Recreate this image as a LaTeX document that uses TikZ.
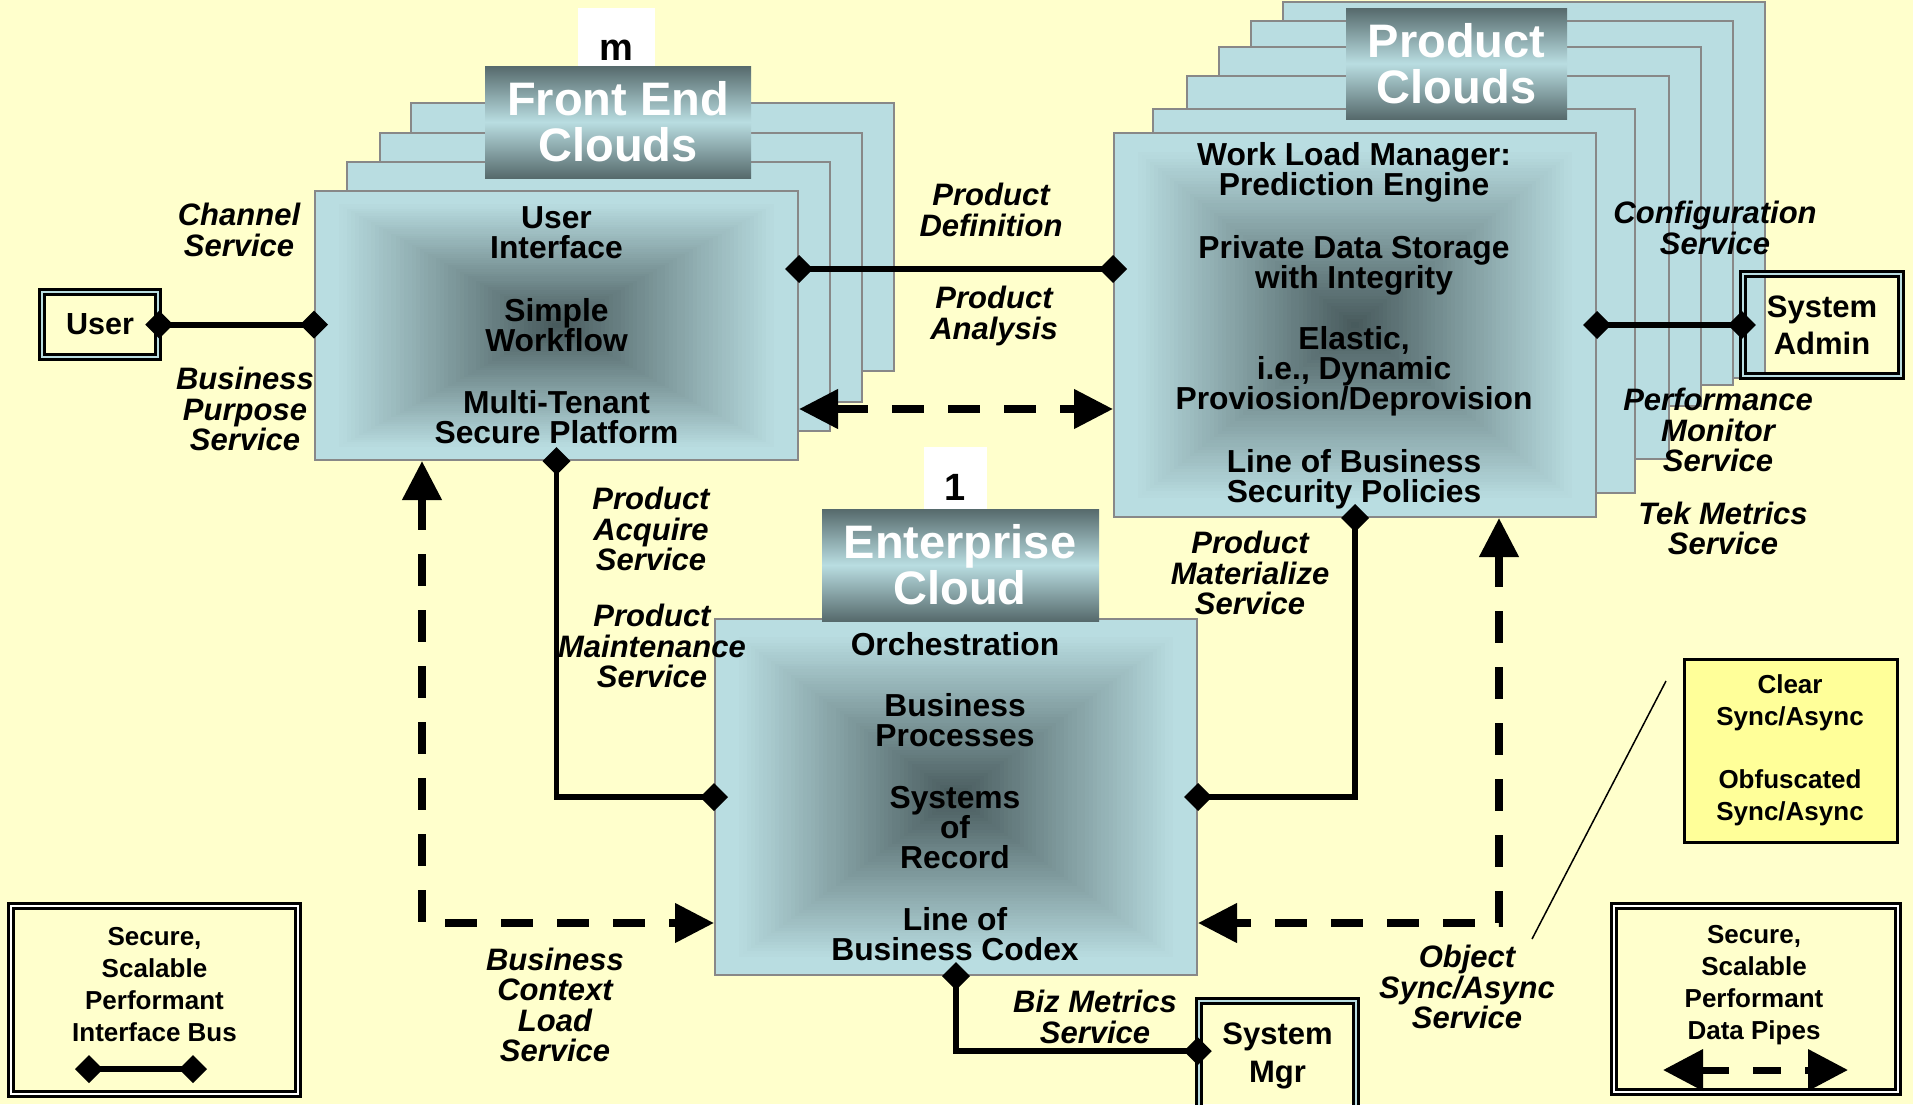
\documentclass[tikz,border=0pt]{standalone}
\usepackage{fontspec}
\setmainfont{Liberation Sans}
\usetikzlibrary{arrows.meta,calc}
\definecolor{bg}{RGB}{255,255,204}
\definecolor{glight}{RGB}{185,221,225}
\definecolor{gdark}{RGB}{70,88,90}
\definecolor{hdark}{RGB}{86,106,108}
\definecolor{edgegray}{RGB}{136,136,136}
\definecolor{clearyellow}{RGB}{255,255,153}
\newcommand\gradrect[4]{%
  \pgfmathsetmacro\gcx{(#1+#3)/2}%
  \pgfmathsetmacro\gcy{(#2+#4)/2}%
  \pgfmathsetmacro\ghw{(#3-#1)/2}%
  \pgfmathsetmacro\ghh{(#4-#2)/2}%
  \foreach \i in {0,...,60}{%
    \pgfmathsetmacro\t{1-\i/60}%
    \pgfmathtruncatemacro\p{max(0,min(100,100*(0.92-\t)/0.92))}%
    \fill[gdark!\p!glight] (\gcx-\t*\ghw,\gcy-\t*\ghh) rectangle (\gcx+\t*\ghw,\gcy+\t*\ghh);
  }%
}
\begin{document}
\begin{tikzpicture}[x=1pt,y=-1pt,
  stack/.style={fill=glight, draw=edgegray, line width=2pt},
  gbox/.style={draw=edgegray, line width=2pt, inner sep=0pt, rectangle},
  bt/.style={font=\bfseries\fontsize{31.8}{29.8}\selectfont, align=center, inner sep=0pt},
  ht/.style={font=\bfseries\fontsize{47}{46}\selectfont, align=center, inner sep=0pt, text=white},
  lab/.style={font=\bfseries\itshape\fontsize{31}{30.5}\selectfont, align=center, inner sep=0pt},
  legt/.style={font=\bfseries\fontsize{26}{32}\selectfont, align=center, inner sep=0pt},
  dblbox/.style={draw=black, line width=2.5pt, double=#1, double distance=2.5pt, inner sep=0pt, rectangle},
  dia/.style={line width=5.5pt, {Diamond[length=28pt,width=28pt]}-{Diamond[length=28pt,width=28pt]}, shorten <=-14pt, shorten >=-14pt},
  dar/.style={line width=7.5pt, dash pattern=on 32pt off 24pt, {Triangle[length=39pt,width=38pt]}-{Triangle[length=39pt,width=38pt]}},
]
\fill[bg] (0,0) rectangle (1913,1104);
\useasboundingbox (0,0) rectangle (1913,1104);

% ---------- Front End Clouds ----------
\foreach \a/\b/\c/\d in {411/102.5/894/371, 380/133/862/402, 347/162/830/431}
  \filldraw[stack] (\a,\b) rectangle (\c,\d);
\gradrect{315}{191}{798}{460}
\node[gbox, minimum width=483pt, minimum height=269pt] (fe) at (556.5,325.5) {};
\fill[white] (578,8) rectangle (655,66);
\node[font=\bfseries\fontsize{38}{38}\selectfont, inner sep=0pt, anchor=base] (mlab) at (616.5,60) {m};
\shade[top color=hdark, bottom color=hdark, middle color=glight] (485,66) rectangle (751,178);
\node[ht] (fetitle) at (618,122) {Front End\\Clouds};
\node[bt] (fe1) at (556.5,233) {User\\Interface};
\node[bt] (fe2) at (556.5,325) {Simple\\Workflow};
\node[bt] (fe3) at (556.5,417) {Multi-Tenant\\Secure Platform};

% ---------- Product Clouds ----------
\foreach \a/\b/\c/\d in {1283/2/1765/378, 1251/21/1733/385, 1219/47/1701/406, 1187/76/1669/459, 1153/109/1635/493}
  \filldraw[stack] (\a,\b) rectangle (\c,\d);
\gradrect{1114}{133}{1596}{517}
\node[gbox, minimum width=482pt, minimum height=384pt] (pc) at (1355,325) {};
\shade[top color=hdark, bottom color=hdark, middle color=glight] (1346,8) rectangle (1567,119);
\node[ht] (pctitle) at (1456.5,64) {Product\\Clouds};
\node[bt] (pc1) at (1354,172.5) {Work Load Manager:\\Prediction Engine};
\node[bt] (pc2) at (1354,265) {Private Data Storage\\with Integrity};
\node[bt] (pc3) at (1354,371.5) {Elastic,\\i.e., Dynamic\\Proviosion/Deprovision};
\node[bt] (pc4) at (1354,479.5) {Line of Business\\Security Policies};

% ---------- Enterprise Cloud ----------
\gradrect{715}{619}{1197}{975}
\node[gbox, minimum width=482pt, minimum height=356pt] (ec) at (956,797) {};
\fill[white] (924,447) rectangle (987,509);
\node[font=\bfseries\fontsize{38}{38}\selectfont, inner sep=0pt, anchor=base] (onelab) at (955.5,500) {1};
\shade[top color=hdark, bottom color=hdark, middle color=glight] (822,509) rectangle (1099,621);
\node[ht] (ectitle) at (960,565) {Enterprise\\Cloud};
\node[bt] (ec1) at (955,644) {Orchestration};
\node[bt] (ec2) at (955,720.5) {Business\\Processes};
\node[bt] (ec3) at (955,827.5) {Systems\\of\\Record};
\node[bt] (ec4) at (955,934.5) {Line of\\Business Codex};

% ---------- actors ----------
\node[dblbox=glight, font=\bfseries\fontsize{30.5}{30}\selectfont, minimum width=116pt, minimum height=65pt] (user) at (100,324.5) {User};
\node[dblbox=glight, font=\bfseries\fontsize{31}{37}\selectfont, align=center, minimum width=158pt, minimum height=102pt] (sa) at (1822,325) {System\\Admin};
\node[dblbox=glight, font=\bfseries\fontsize{31}{38}\selectfont, align=center, minimum width=157pt, minimum height=110pt] (sm) at (1277.5,1056) {System\\Mgr};

% ---------- legend / note boxes ----------
\node[dblbox=white, minimum width=287pt, minimum height=188pt] (leg1) at (154.5,1000) {};
\node[legt] (leg1t) at (154.5,985) {Secure,\\Scalable\\Performant\\Interface Bus};
\coordinate (l1a) at (89,1069);
\coordinate (l1b) at (193,1069);
\node[dblbox=white, minimum width=284pt, minimum height=186pt] (leg2) at (1756,999) {};
\node[legt] (leg2t) at (1754,985) {Secure,\\Scalable\\Performant\\Data Pipes};
\coordinate (l2a) at (1663,1070);
\coordinate (l2b) at (1848,1070);
\node[draw=black, line width=2.5pt, fill=clearyellow, minimum width=213pt, minimum height=183pt, inner sep=0pt] (clear) at (1791,751) {};
\node[font=\bfseries\fontsize{26}{32}\selectfont, align=center, inner sep=0pt] (cleart) at (1790,750) {Clear\\Sync/Async\\[31pt]Obfuscated\\Sync/Async};
\coordinate (t1) at (1666,681);
\coordinate (t2) at (1532,939);

% ---------- connectors ----------
\draw[dia, line width=6pt] (user.east) -- (user.east -| fe.west);
\draw[dia] (fe.east |- 0,269) -- (pc.west |- 0,269);
\draw[dar] (fe.east |- 0,409) -- (pc.west |- 0,409);
\draw[dia] (pc.east) -- (sa.west);
\draw[dia] (fe.south) |- (ec.west);
\draw[dia] (pc.south) |- (ec.east);
\draw[dar] (fe.south -| 422,0) |- (ec.west |- 0,923);
\draw[dar] (pc.south -| 1499,0) |- (ec.east |- 0,923);
\draw[dia] (ec.south) |- (sm.west |- 0,1051);
\draw[line width=1.5pt] (t1) -- (t2);
\draw[dia] (l1a) -- (l1b);
\draw[line width=7pt, dash pattern=on 28pt off 24pt, {Triangle[length=40pt,width=40pt]}-{Triangle[length=40pt,width=40pt]}] (l2a) -- (l2b);

% ---------- labels ----------
\node[lab] (lchan) at (239,230) {Channel\\Service};
\node[lab] (lbps) at (245,409) {Business\\Purpose\\Service};
\node[lab] (lpdef) at (991,210) {Product\\Definition};
\node[lab] (lpana) at (994,316) {Product\\Analysis};
\node[lab] (lpacq) at (651,529) {Product\\Acquire\\Service};
\node[lab] (lpmnt) at (652,646) {Product\\Maintenance\\Service};
\node[lab] (lpmat) at (1250,573) {Product\\Materialize\\Service};
\node[lab] (lconf) at (1715,228) {Configuration\\Service};
\node[lab] (lperf) at (1718,430) {Performance\\Monitor\\Service};
\node[lab] (ltek) at (1723,528.5) {Tek Metrics\\Service};
\node[lab] (lbcl) at (555,1005) {Business\\Context\\Load\\Service};
\node[lab] (lobj) at (1467,987) {Object\\Sync/Async\\Service};
\node[lab] (lbiz) at (1095,1017) {Biz Metrics\\Service};
\end{tikzpicture}
\end{document}
